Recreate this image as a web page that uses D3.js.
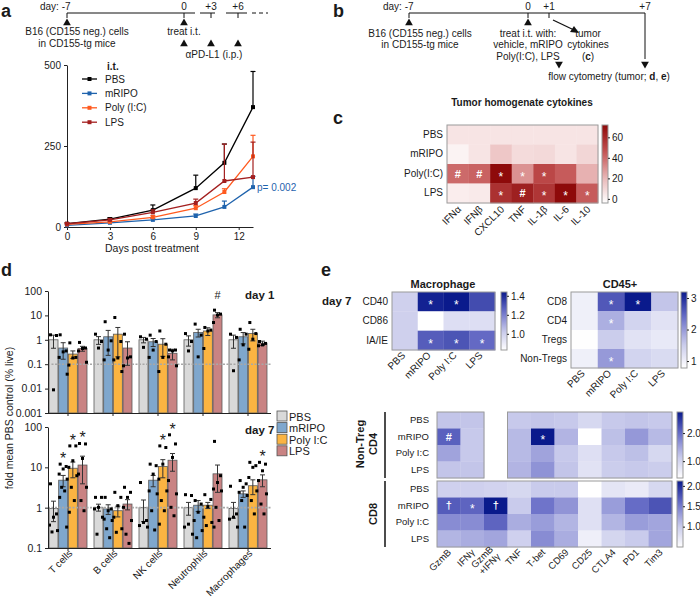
<!DOCTYPE html>
<html>
<head>
<meta charset="utf-8">
<script src="https://cdn.jsdelivr.net/npm/d3@7"></script>
<style>
  body { margin: 0; background: #fff; }
  svg { font-family: Arial, "Liberation Sans", Helvetica, sans-serif; }
</style>
</head>
<body>
<svg id="fig" width="700" height="599"></svg>
<script>
// ---- a: tumor growth ----
const growthDays = [0, 3, 6, 9, 11, 13];
const growthNames = ["PBS", "mRIPO", "Poly (I:C)", "LPS"];
const growthPBS = [10, 24, 52, 120, 198, 370];
const growthPBSErr = [3, 5, 16, 40, 58, 110];
const growthMRIPO = [5, 13, 22, 34, 62, 123];
const growthMRIPOErr = [2, 3, 4, 6, 18, 33];
const growthPoly = [8, 16, 30, 58, 108, 218];
const growthPolyErr = [2, 3, 5, 8, 10, 65];
const growthLPS = [10, 22, 45, 74, 142, 154];
const growthLPSErr = [2, 4, 8, 12, 114, 108];

// ---- c: cytokines ----
const cytoRows = ["PBS", "mRIPO", "Poly(I:C)", "LPS"];
const cytoCols = ["IFNα", "IFNβ", "CXCL10", "TNF", "IL-1β", "IL-6", "IL-10"];
const cytoValues = [
  [5, 5, 5, 5, 5, 5, 5],
  [0, 5, 15, 8, 9, 5, 10],
  [40, 42, 72, 30, 50, 44, 22],
  [2, 3, 58, 64, 56, 72, 44]
];
const cytoMarks = [
  ["", "", "", "", "", "", ""],
  ["", "", "", "", "", "", ""],
  ["#", "#", "*", "*", "*", "", ""],
  ["", "", "*", "#", "*", "*", "*"]
];

// ---- d: flow cytometry bars ----
const cellTypes = ["T cells", "B cells", "NK cells", "Neutrophils", "Macrophages"];
const treatments = ["PBS", "mRIPO", "Poly I:C", "LPS"];
const day1Mean = [[1.0, 0.46, 0.26, 0.44], [1.0, 1.33, 1.7, 0.46], [1.0, 0.83, 0.66, 0.28], [1.0, 2.0, 2.3, 10.5], [1.0, 1.33, 1.8, 0.73]];
const day1Sem = [[0.55, 0.3, 0.09, 0.1], [0.35, 1.1, 1.5, 0.37], [0.25, 0.3, 0.45, 0.13], [0.45, 0.7, 0.8, 2.5], [0.55, 0.65, 0.9, 0.15]];
const day1Points = [
  [[1.6, 1.5, 0.0089], [1.6, 0.35, 0.32, 0.19, 0.039], [0.75, 0.19, 0.18, 0.092], [0.78, 0.46, 0.44, 0.35, 0.12]],
  [[1.7, 0.85, 0.46], [5.5, 0.91, 0.38, 0.15], [8.2, 0.85, 0.18, 0.15, 0.05], [1.7, 0.2, 0.18, 0.086]],
  [[1.33, 1.06, 0.49], [1.55, 0.85, 0.38, 0.19], [2.3, 0.66, 0.19, 0.05], [0.38, 0.38, 0.35, 0.2, 0.086]],
  [[1.8, 0.85, 0.35], [4.4, 1.55, 0.2], [3.2, 2.5, 2.3, 0.44], [16.4, 11.3, 10.3, 5.1]],
  [[1.7, 1.25, 0.054], [2.7, 1.7, 0.62, 0.15], [5.1, 1.8, 1.06, 0.41], [0.85, 0.71, 0.62, 0.57]]
];
const day1Marks = [["", "", "", ""], ["", "", "", ""], ["", "", "", ""], ["", "", "", "#"], ["", "", "", ""]];

const day7Mean = [[0.95, 4.8, 9.5, 11.4], [1.02, 0.93, 0.84, 1.23], [1.0, 4.8, 10.5, 15], [1.0, 1.15, 1.15, 6.9], [0.95, 2.2, 3.5, 4.9]];
const day7Sem = [[0.5, 1.5, 4, 7.5], [0.2, 0.25, 0.25, 0.35], [0.55, 1.5, 5, 7], [0.35, 0.35, 0.2, 4.5], [0.4, 0.4, 1.4, 1.6]];
const day7Points = [
  [[3.9, 0.7, 0.58, 0.37, 0.27, 0.25], [12, 10.5, 9.1, 6.8, 5.1, 3.2, 2.6, 1.8, 0.33], [34, 34, 14.6, 10, 6.2, 3.2, 1.5, 0.77], [39, 38, 16.6, 6.8, 3.2, 1.5, 0.84]],
  [[1.8, 1.8, 1.02, 0.93, 0.58, 0.22], [1.8, 0.93, 0.84, 0.52, 0.48, 0.3, 0.18], [2.4, 1.8, 1.12, 0.58, 0.3, 0.245], [3.2, 2.4, 1.8, 1.02, 0.48, 0.22, 0.13]],
  [[4.2, 0.48, 0.43, 0.36, 0.33], [12, 11, 6.8, 2.6, 2.2, 0.84, 0.28], [34, 31, 12, 5.1, 2.6, 1.5, 0.84, 0.39], [64, 38, 17.6, 4.7, 2.2, 1.02, 0.63]],
  [[2.1, 2.0, 0.39, 0.33, 0.22], [1.5, 1.23, 0.77, 0.48, 0.27, 0.18], [2.1, 1.6, 1.06, 0.58, 0.43, 0.36], [44, 6.2, 4.2, 2.9, 2.6, 1.02, 0.48, 0.33]],
  [[3.4, 0.7, 0.58, 0.52, 0.33], [4.7, 3.9, 3.2, 2.4, 2.0, 1.5, 0.33], [13.3, 11, 10, 5.6, 2.6, 1.5, 0.7], [13.3, 12, 8.2, 4.7, 2.2, 1.23, 0.7]]
];
const day7Marks = [["", "*", "*", "*"], ["", "", "", ""], ["", "", "*", "*"], ["", "", "", ""], ["", "", "", "*"]];

// ---- e: heatmaps ----
const treatCols = ["PBS", "mRIPO", "Poly I:C", "LPS"];
const macRows = ["CD40", "CD86", "IA/IE"];
const macValues = [[1.0, 1.42, 1.44, 1.32], [1.0, 0.83, 0.95, 0.95], [1.0, 1.28, 1.3, 1.25]];
const macMarks = [["", "*", "*", ""], ["", "", "", ""], ["", "*", "*", "*"]];
const cd45Rows = ["CD8", "CD4", "Tregs", "Non-Tregs"];
const cd45Values = [[1.0, 2.6, 3.19, 1.6], [1.0, 1.8, 1.4, 1.2], [0.8, 1.5, 1.2, 1.1], [1.0, 2.0, 1.4, 1.3]];
const cd45Marks = [["", "*", "*", ""], ["", "*", "", ""], ["", "", "", ""], ["", "*", "", ""]];
const markerCols = ["GzmB", "IFNγ", "GzmB\n+IFNγ", "TNF", "T-bet", "CD69", "CD25", "CTLA4", "PD1", "Tim3"];
const cd4Values = [
  [1.2, 1.2, null, 1.15, 1.2, 1.15, 0.95, 1.15, 1.2, 1.15],
  [2.1, 1.15, null, 1.3, 2.75, 1.35, 0.4, 1.25, 1.6, 1.3],
  [1.5, 1.15, null, 1.3, 1.5, 1.15, 0.85, 1.15, 1.25, 0.95],
  [1.2, 1.2, null, 1.35, 1.65, 1.2, 0.8, 1.1, 1.15, 1.1]
];
const cd4Marks = [["", "", "", "", "", "", "", "", "", ""], ["#", "", "", "", "*", "", "", "", "", ""], ["", "", "", "", "", "", "", "", "", ""], ["", "", "", "", "", "", "", "", "", ""]];
const cd8Values = [
  [0.95, 0.95, 0.92, 0.88, 1.0, 1.0, 0.5, 0.75, 0.7, 0.88],
  [1.7, 1.65, 2.12, 1.0, 1.55, 1.35, 0.8, 1.3, 1.6, 1.75],
  [1.4, 1.4, 1.65, 1.2, 1.3, 1.15, 0.8, 1.15, 1.3, 1.25],
  [1.15, 1.2, 1.25, 0.95, 1.4, 1.2, 0.65, 0.9, 1.0, 1.25]
];
const cd8Marks = [["", "", "", "", "", "", "", "", "", ""], ["†", "*", "†", "", "", "", "", "", "", ""], ["", "", "", "", "", "", "", "", "", ""], ["", "", "", "", "", "", "", "", "", ""]];

const growthColors = ["#000000", "#1f63ad", "#ff5a1f", "#a31f1f"];
const barColors = ["#d9d9d9", "#7fa7cd", "#fbb442", "#c98383"];
const redInterp = d3.piecewise(d3.interpolateRgb, ["#ffffff", "#e8b4b4", "#c25050", "#8e0a0a"]);
const blueInterp = d3.piecewise(d3.interpolateRgb, ["#ffffff", "#c5c7ea", "#6a6fc8", "#0a1a8c"]);

const svg = d3.select("#fig");
const INK = "#1a1a1a";

function txt(g, x, y, s, o = {}) {
  return g.append("text").attr("x", x).attr("y", y).text(s)
    .attr("font-size", o.size || 10)
    .attr("text-anchor", o.anchor || "start")
    .attr("font-weight", o.bold ? "bold" : null)
    .attr("fill", o.fill || INK);
}
function seg(g, x1, y1, x2, y2, w = 1) {
  return g.append("line").attr("x1", x1).attr("y1", y1).attr("x2", x2).attr("y2", y2)
    .attr("stroke", "#111").attr("stroke-width", w);
}
const tri = d3.symbol(d3.symbolTriangle).size(26);
function triangle(g, x, y, down) {
  g.append("path").attr("d", tri())
    .attr("transform", `translate(${x},${y})${down ? " rotate(180)" : ""}`)
    .attr("fill", "#111");
}
function styleAxis(ax, size = 10) {
  ax.attr("font-family", null).attr("font-size", size);
  ax.selectAll("path, line").attr("stroke", "#222");
  ax.selectAll("text").attr("fill", INK);
}

// panel letters
[["a", 1, 17], ["b", 333, 17], ["c", 333, 124], ["d", 1, 276], ["e", 321, 276]].forEach(([l, x, y]) =>
  txt(svg, x, y, l, { size: 18, bold: true }));

// ================= a =================
const gA = svg.append("g");
txt(gA, 40, 10, "day: -7");
[[67, 195], [200, 215], [226, 247]].forEach(([a, b]) => seg(gA, a, 13, b, 13));
seg(gA, 252, 13, 268, 13).attr("stroke-dasharray", "4,3");
[67, 184, 211, 238].forEach(x => seg(gA, x, 13, x, 18));
[["0", 184], ["+3", 211], ["+6", 238]].forEach(([s, x]) => txt(gA, x, 10, s, { anchor: "middle" }));
triangle(gA, 67, 23); triangle(gA, 184, 23);
txt(gA, 77, 35, "B16 (CD155 neg.) cells", { anchor: "middle" });
txt(gA, 77, 47, "in CD155-tg mice", { anchor: "middle" });
txt(gA, 184, 35, "treat i.t.", { anchor: "middle" });
[184, 211, 238].forEach(x => triangle(gA, x, 44));
txt(gA, 214, 58, "αPD-L1 (i.p.)", { anchor: "middle" });

const ax = d3.scaleLinear().domain([0, 13]).range([67, 253]);
const ay = d3.scaleLinear().domain([0, 500]).range([227, 65]);
styleAxis(gA.append("g").attr("transform", "translate(0,227)")
  .call(d3.axisBottom(ax).tickValues([0, 3, 6, 9, 12]).tickSize(3).tickSizeOuter(0)));
styleAxis(gA.append("g").attr("transform", "translate(67,0)")
  .call(d3.axisLeft(ay).tickValues([0, 250, 500]).tickSize(3).tickSizeOuter(0)));
txt(gA, 152, 252, "Days post treatment", { anchor: "middle", size: 10.5 });

const growthSeries = [
  { vals: growthPBS, err: growthPBSErr },
  { vals: growthMRIPO, err: growthMRIPOErr },
  { vals: growthPoly, err: growthPolyErr },
  { vals: growthLPS, err: growthLPSErr }
];
const lineGen = d3.line().x(d => ax(d.day)).y(d => ay(d.v));
growthSeries.forEach((s, i) => {
  const pts = growthDays.map((day, k) => ({ day, v: s.vals[k], e: s.err[k] }));
  const g = gA.append("g").attr("stroke", growthColors[i]).attr("fill", growthColors[i]);
  g.append("path").datum(pts).attr("d", lineGen).attr("fill", "none").attr("stroke-width", 1.3);
  g.selectAll(".eb").data(pts).join("line").attr("class", "eb")
    .attr("x1", d => ax(d.day)).attr("x2", d => ax(d.day))
    .attr("y1", d => ay(d.v)).attr("y2", d => ay(d.v + d.e)).attr("stroke-width", 1.2);
  g.selectAll(".cap").data(pts).join("line").attr("class", "cap")
    .attr("x1", d => ax(d.day) - 2.5).attr("x2", d => ax(d.day) + 2.5)
    .attr("y1", d => ay(d.v + d.e)).attr("y2", d => ay(d.v + d.e)).attr("stroke-width", 1.2);
  g.selectAll("rect").data(pts).join("rect")
    .attr("x", d => ax(d.day) - 2).attr("y", d => ay(d.v) - 2)
    .attr("width", 4).attr("height", 4).attr("stroke", "none");
});
txt(gA, 257, 191, "p= 0.002", { fill: growthColors[1] });

txt(gA, 107, 70, "i.t.", { bold: true });
growthNames.forEach((n, i) => {
  const y = 79 + i * 14.4;
  gA.append("line").attr("x1", 82).attr("x2", 97).attr("y1", y).attr("y2", y)
    .attr("stroke", growthColors[i]).attr("stroke-width", 1.3);
  gA.append("rect").attr("x", 87.5).attr("y", y - 2).attr("width", 4).attr("height", 4).attr("fill", growthColors[i]);
  txt(gA, 105, y + 3.5, n);
});

// ================= b =================
const gB = svg.append("g");
txt(gB, 383, 10, "day: -7");
seg(gB, 409, 13, 645, 13);
[409, 528, 549].forEach(x => seg(gB, x, 13, x, 18));
seg(gB, 645, 13, 645, 59);
[["0", 528], ["+1", 549], ["+7", 645]].forEach(([s, x]) => txt(gB, x, 10, s, { anchor: "middle" }));
triangle(gB, 409, 23); triangle(gB, 528, 23);
triangle(gB, 559, 64, true); triangle(gB, 645, 64, true);
txt(gB, 420, 37, "B16 (CD155 neg.) cells", { anchor: "middle" });
txt(gB, 420, 48, "in CD155-tg mice", { anchor: "middle" });
txt(gB, 528, 37, "treat i.t. with:", { anchor: "middle" });
txt(gB, 528, 48, "vehicle, mRIPO", { anchor: "middle" });
txt(gB, 528, 60, "Poly(I:C), LPS", { anchor: "middle" });
txt(gB, 588, 37, "tumor", { anchor: "middle" });
txt(gB, 588, 48, "cytokines", { anchor: "middle" });
const tc = txt(gB, 588, 60, "", { anchor: "middle" });
tc.append("tspan").text("(");
tc.append("tspan").text("c").attr("font-weight", "bold");
tc.append("tspan").text(")");
const fc = txt(gB, 609, 80, "", { anchor: "middle" });
fc.append("tspan").text("flow cytometry (tumor; ");
fc.append("tspan").text("d").attr("font-weight", "bold");
fc.append("tspan").text(", ");
fc.append("tspan").text("e").attr("font-weight", "bold");
fc.append("tspan").text(")");
seg(gB, 553, 20, 574, 30, 1.3);
gB.append("path").attr("d", "M579,33 L570,32 L574,26 Z").attr("fill", "#111");

// ================= heatmap helpers =================
const markShift = { "*": "0.6em", "#": "0.36em", "†": "0.3em" };
function heatmap(g, o) {
  const x = d3.scaleBand().domain(d3.range(o.cols.length)).range([o.x0, o.x1]);
  const y = d3.scaleBand().domain(o.rows).range([o.y0, o.y1]);
  const color = d3.scaleSequential(o.interp).domain(o.domain);
  const cells = [];
  o.values.forEach((row, r) => row.forEach((v, c) => cells.push({ r, c, v, m: o.marks[r][c] })));
  const defined = cells.filter(d => d.v != null);
  g.selectAll(null).data(defined).join("rect")
    .attr("x", d => x(d.c)).attr("y", d => y(o.rows[d.r]))
    .attr("width", x.bandwidth() + 0.3).attr("height", y.bandwidth() + 0.3)
    .attr("fill", d => color(d.v));
  // outline contiguous defined column runs
  const hasCol = o.cols.map((_, c) => o.values.some(row => row[c] != null));
  let start = null;
  hasCol.concat([false]).forEach((h, c) => {
    if (h && start === null) start = c;
    if (!h && start !== null) {
      g.append("rect").attr("x", x(start)).attr("y", o.y0)
        .attr("width", x(c - 1) + x.bandwidth() - x(start)).attr("height", o.y1 - o.y0)
        .attr("fill", "none").attr("stroke", "#9a9a9a").attr("stroke-width", 1);
      start = null;
    }
  });
  g.selectAll(null).data(defined.filter(d => d.m)).join("text")
    .attr("x", d => x(d.c) + x.bandwidth() / 2)
    .attr("y", d => y(o.rows[d.r]) + y.bandwidth() / 2)
    .attr("dy", d => markShift[d.m])
    .attr("text-anchor", "middle").attr("fill", "#fff")
    .attr("font-size", d => d.m === "*" ? 12 : 11).attr("font-weight", d => d.m === "*" ? null : "bold")
    .text(d => d.m);
  const ra = g.append("g").attr("transform", `translate(${o.x0},0)`)
    .call(d3.axisLeft(y).tickSize(0).tickPadding(o.rowPad || 4));
  ra.select(".domain").remove();
  styleAxis(ra, o.rowSize || 10);
  if (o.colLabels !== false) {
    o.cols.forEach((lab, c) => {
      const t = g.append("text").attr("text-anchor", "end").attr("font-size", o.colSize || 10).attr("fill", INK)
        .attr("transform", `translate(${x(c) + x.bandwidth() / 2 + (o.colDx || 3)},${o.y1 + (o.colDy || 7)}) rotate(-45)`);
      const parts = lab.split("\n");
      parts.forEach((p, k) => t.append("tspan").attr("x", 0).attr("dy", k === 0 ? 0 : "1.05em").text(p));
      if (parts.length > 1) t.attr("transform", `translate(${x(c) + x.bandwidth() / 2 - 2},${o.y1 + 3}) rotate(-45)`);
    });
  }
  return { x, y, color };
}
function colorbar(g, o) {
  const id = "grad" + Math.round(o.x0) + "_" + Math.round(o.y0);
  const grad = svg.append("defs").append("linearGradient").attr("id", id)
    .attr("x1", 0).attr("y1", 1).attr("x2", 0).attr("y2", 0);
  d3.range(0, 1.0001, 0.1).forEach(t => grad.append("stop").attr("offset", t).attr("stop-color", o.interp(t)));
  g.append("rect").attr("x", o.x0).attr("y", o.y0).attr("width", o.w).attr("height", o.y1 - o.y0)
    .attr("fill", `url(#${id})`).attr("stroke", "#9a9a9a");
  const s = d3.scaleLinear().domain(o.domain).range([o.y1, o.y0]);
  const a = g.append("g").attr("transform", `translate(${o.x0 + o.w},0)`)
    .call(d3.axisRight(s).tickValues(o.ticks).tickFormat(o.fmt).tickSize(2).tickPadding(2));
  a.select(".domain").remove();
  styleAxis(a, o.size || 10);
}

// ================= c =================
const gC = svg.append("g");
txt(gC, 522, 106, "Tumor homogenate cytokines", { anchor: "middle", bold: true });
heatmap(gC, { rows: cytoRows, cols: cytoCols, values: cytoValues, marks: cytoMarks,
  x0: 447, x1: 598, y0: 125, y1: 203, interp: redInterp, domain: [-4, 72], colDx: 4, colDy: 7 });
colorbar(gC, { x0: 602, y0: 125, y1: 203, w: 6, interp: redInterp, domain: [-4, 72], ticks: [0, 20, 40, 60], fmt: d3.format("d") });

// ================= d =================
const gD = svg.append("g");
const dx = d3.scaleBand().domain(cellTypes).range([45.5, 270.5]);
const dInner = d3.scaleBand().domain(treatments).range([-19, 19]).paddingInner(0.07);
const y1 = d3.scaleLog().domain([0.001, 100]).range([413, 291]);
const y7 = d3.scaleLog().domain([0.1, 100]).range([548, 427]);
const jitter = [-3, 3, 0, -4, 4, -1.5, 1.5, -3.5, 3.5, 0.5];

function barPanel(yS, means, sems, points, marks, ref) {
  const g = gD.append("g");
  const base = yS.range()[0];
  const lo = yS.domain()[0];
  const recs = [];
  cellTypes.forEach((ct, i) => treatments.forEach((tr, j) => recs.push({
    j, cx: dx(ct) + dx.bandwidth() / 2 + dInner(tr) + dInner.bandwidth() / 2,
    mean: means[i][j], sem: sems[i][j], pts: points[i][j], mark: marks[i][j]
  })));
  const bw = dInner.bandwidth();
  g.selectAll(null).data(recs).join("rect")
    .attr("x", d => d.cx - bw / 2).attr("y", d => yS(d.mean))
    .attr("width", bw).attr("height", d => base - yS(d.mean))
    .attr("fill", d => barColors[d.j]).attr("stroke", "#5a5a5a").attr("stroke-width", 0.8);
  g.append("line").attr("x1", 48).attr("x2", 272).attr("y1", yS(ref)).attr("y2", yS(ref))
    .attr("stroke", "#a8a8a8").attr("stroke-width", 1.6).attr("stroke-dasharray", "2,1.5");
  g.selectAll(null).data(recs).join("path")
    .attr("d", d => {
      const t = yS(d.mean + d.sem), b = yS(Math.max(lo, d.mean - d.sem));
      return `M${d.cx},${b}V${t}M${d.cx - 2.5},${t}H${d.cx + 2.5}M${d.cx - 2.5},${b}H${d.cx + 2.5}`;
    })
    .attr("stroke", "#333").attr("stroke-width", 1).attr("fill", "none");
  const dots = recs.flatMap(d => d.pts.map((v, k) => ({ x: d.cx + jitter[k % jitter.length], v })));
  g.selectAll(null).data(dots).join("rect")
    .attr("x", d => d.x - 1.5).attr("y", d => yS(d.v) - 1.5).attr("width", 3).attr("height", 3).attr("fill", "#000");
  g.selectAll(null).data(recs.filter(d => d.mark)).join("text")
    .attr("x", d => d.cx).attr("y", d => yS(Math.max(d3.max(d.pts), d.mean + d.sem)) - (d.mark === "#" ? 11 : 0))
    .attr("text-anchor", "middle").attr("font-size", d => d.mark === "*" ? 16 : 11).attr("fill", INK)
    .text(d => d.mark);
  const ya = g.append("g").attr("transform", "translate(48,0)")
    .call(d3.axisLeft(yS).tickValues(yS.ticks().filter(v => Math.abs(Math.log10(v) % 1) < 1e-6))
      .tickFormat(d3.format("~g")).tickSize(3).tickSizeOuter(0));
  styleAxis(ya, 10.5);
  const xa = g.append("g").attr("transform", `translate(0,${base})`)
    .call(d3.axisBottom(dx).tickSize(3).tickSizeOuter(0).tickFormat(""));
  styleAxis(xa);
  return g;
}
barPanel(y1, day1Mean, day1Sem, day1Points, day1Marks, 0.1);
const g7 = barPanel(y7, day7Mean, day7Sem, day7Points, day7Marks, 1);
cellTypes.forEach(ct => {
  g7.append("text").attr("text-anchor", "end").attr("font-size", 10).attr("fill", INK)
    .attr("transform", `translate(${dx(ct) + dx.bandwidth() / 2 + 5},${554}) rotate(-45)`).text(ct);
});
txt(gD, 245, 299, "day 1", { bold: true, size: 11.5 });
txt(gD, 245, 434, "day 7", { bold: true, size: 11.5 });
gD.append("text").attr("transform", "translate(13,418) rotate(-90)").attr("text-anchor", "middle")
  .attr("font-size", 10.5).attr("fill", INK).text("fold mean PBS control (% live)");
treatments.forEach((t, i) => {
  const y = 416 + i * 11.6;
  gD.append("rect").attr("x", 277).attr("y", y - 5).attr("width", 10).attr("height", 10)
    .attr("fill", barColors[i]).attr("stroke", "#555").attr("stroke-width", 0.8);
  txt(gD, 289, y + 4.5, t, { size: 11 });
});

// ================= e =================
const gE = svg.append("g");
txt(gE, 322, 305, "day 7", { bold: true, size: 11.5 });
txt(gE, 443, 288, "Macrophage", { anchor: "middle", bold: true, size: 11 });
heatmap(gE, { rows: macRows, cols: treatCols, values: macValues, marks: macMarks,
  x0: 392, x1: 495, y0: 292, y1: 350, interp: blueInterp, domain: [0.83, 1.44], colDx: 1, colDy: 6 });
colorbar(gE, { x0: 501, y0: 292, y1: 350, w: 6, interp: blueInterp, domain: [0.83, 1.44], ticks: [1.0, 1.2, 1.4], fmt: d3.format(".1f") });

txt(gE, 620, 288, "CD45+", { anchor: "middle", bold: true, size: 11 });
heatmap(gE, { rows: cd45Rows, cols: treatCols, values: cd45Values, marks: cd45Marks,
  x0: 571, x1: 678, y0: 292, y1: 368, interp: blueInterp, domain: [0.78, 3.19], colDx: 1, colDy: 6 });
colorbar(gE, { x0: 681, y0: 292, y1: 368, w: 6, interp: blueInterp, domain: [0.78, 3.19], ticks: [1, 2, 3], fmt: d3.format("d") });

heatmap(gE, { rows: treatCols, cols: markerCols, values: cd4Values, marks: cd4Marks,
  x0: 437, x1: 672, y0: 412, y1: 478, interp: blueInterp, domain: [0.4, 2.75], colLabels: false, rowPad: 8, rowSize: 9.5 });
colorbar(gE, { x0: 677, y0: 412, y1: 478, w: 6, interp: blueInterp, domain: [0.4, 2.75], ticks: [1.0, 2.0], fmt: d3.format(".1f") });
heatmap(gE, { rows: treatCols, cols: markerCols, values: cd8Values, marks: cd8Marks,
  x0: 437, x1: 672, y0: 481, y1: 547, interp: blueInterp, domain: [0.5, 2.12], rowPad: 8, rowSize: 9.5, colSize: 9.5, colDx: 3, colDy: 6 });
colorbar(gE, { x0: 677, y0: 481, y1: 547, w: 6, interp: blueInterp, domain: [0.5, 2.12], ticks: [1.0, 1.5, 2.0], fmt: d3.format(".1f") });

seg(gE, 385, 412, 385, 478, 1.5);
seg(gE, 385, 481, 385, 547, 1.5);
gE.append("text").attr("transform", "translate(364,444) rotate(-90)").attr("text-anchor", "middle")
  .attr("font-size", 11).attr("font-weight", "bold").attr("fill", INK).text("Non-Treg");
gE.append("text").attr("transform", "translate(377,444) rotate(-90)").attr("text-anchor", "middle")
  .attr("font-size", 11).attr("font-weight", "bold").attr("fill", INK).text("CD4");
gE.append("text").attr("transform", "translate(377,514) rotate(-90)").attr("text-anchor", "middle")
  .attr("font-size", 11).attr("font-weight", "bold").attr("fill", INK).text("CD8");
</script>
</body>
</html>
